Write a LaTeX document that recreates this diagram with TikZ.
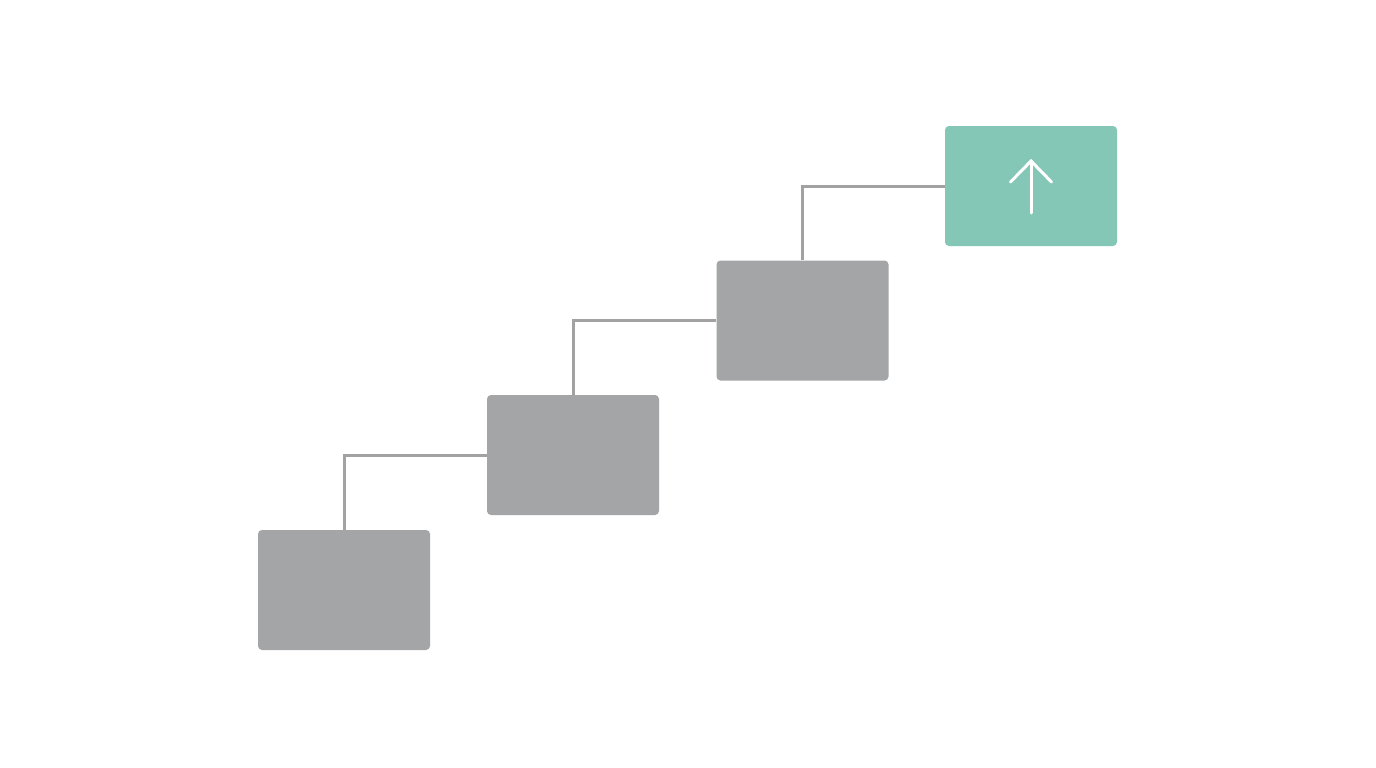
\documentclass[tikz,border=0pt]{standalone}
\definecolor{boxgray}{HTML}{A3A5A6}
\definecolor{boxgreen}{HTML}{84C7B6}
\definecolor{linegray}{HTML}{A2A2A2}
\begin{document}
\begin{tikzpicture}[x=1pt,y=-1pt,
  stepbox/.style={draw=none,fill=boxgray,rounded corners=4pt,minimum width=172pt,minimum height=120pt,inner sep=0pt},
  goalbox/.style={stepbox,fill=boxgreen},
  conn/.style={draw=linegray,line width=3pt}]
\useasboundingbox[fill=white] (0,0) rectangle (1376,768);
\node[stepbox] (b1) at (344,590) {};
\node[stepbox] (b2) at (573,455) {};
\node[stepbox] (b3) at (802.5,320.5) {};
\node[goalbox] (b4) at (1031,186) {};
\draw[conn] (b1.north) |- (b2.west);
\draw[conn] (b2.north) |- (b3.west);
\draw[conn] (b3.north) |- (b4.west);
\coordinate (at) at (1031,161);
\coordinate (ab) at (1031,213);
\draw[white,line width=3pt,line cap=round,line join=miter] (ab) -- (at);
\draw[white,line width=3pt,line cap=round] (1010.5,182) -- (at) -- (1051.5,182);
\end{tikzpicture}
\end{document}
